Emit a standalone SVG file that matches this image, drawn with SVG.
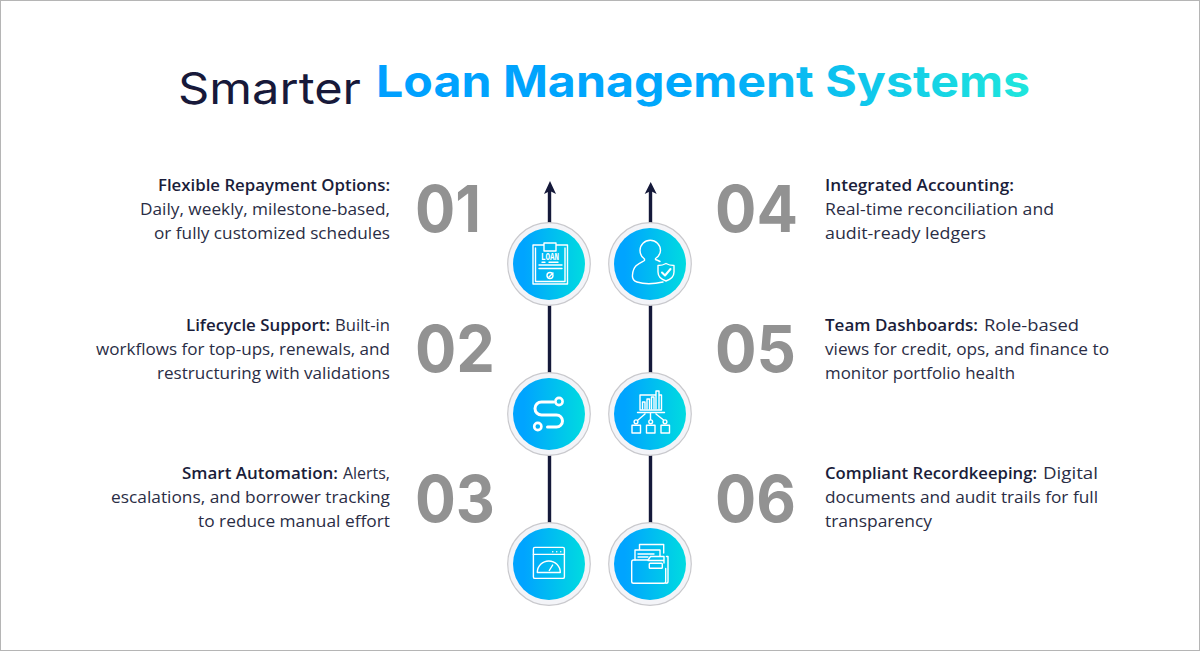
<svg xmlns="http://www.w3.org/2000/svg" width="1200" height="651" viewBox="0 0 1200 651">
<style>
text{font-family:"Open Sans","Noto Sans","Liberation Sans",sans-serif}
.t{font-size:15.5px;fill:#2a2d45}
.b{font-size:15.5px;font-weight:600;fill:#1a1d3a}
.n{font-family:Inter,"Liberation Sans",sans-serif;font-size:64px;font-weight:700;fill:#929292}
.ring{fill:#f3f4f8;stroke:#c9c9cd;stroke-width:1.2}
.disc{fill:url(#disc)}
.ic{fill:none;stroke:#fff;stroke-width:1.4;stroke-linecap:round;stroke-linejoin:round}
.lk{stroke:#15193a;stroke-width:3.4;fill:none}
.hd{fill:#15193a}
</style>
<defs>
<linearGradient id="disc" x1="0" y1="0" x2="1" y2="0"><stop offset="0.15" stop-color="#00a4ff"/><stop offset="1" stop-color="#00dbe0"/></linearGradient>
<linearGradient id="ttl" gradientUnits="userSpaceOnUse" x1="376" y1="0" x2="1030" y2="0"><stop offset="0" stop-color="#00a0ff"/><stop offset="0.5" stop-color="#00a8fb"/><stop offset="1" stop-color="#1fe6dc"/></linearGradient>
</defs>
<rect x="0.5" y="0.5" width="1199" height="650" fill="#fff" stroke="#b5b5b5"/>
<g id="title">
<text x="178" y="104" font-size="44" fill="#17193a" textLength="183" lengthAdjust="spacingAndGlyphs" style="font-family:Inter,'Open Sans',sans-serif">Smarter</text>
<text x="376" y="97" font-size="44" font-weight="700" fill="url(#ttl)" textLength="654" lengthAdjust="spacingAndGlyphs" style="font-family:Inter,'Open Sans',sans-serif">Loan Management Systems</text>
</g>
<g id="connectors">
<path class="lk" d="M549.500 190V224M549.500 304V374M549.500 454V524M650.500 190V224M650.500 304V374M650.500 454V524"/>
<path class="hd" d="M550 181L556 194L550 191L544 194Z"/>
<path class="hd" d="M650.700 182L656.700 194L650.700 191L644.700 194Z"/>
</g>
<g id="node-01">
<text class="n" x="415" y="232" textLength="66" lengthAdjust="spacingAndGlyphs">01</text>
<text class="b" x="158" y="191" textLength="232" lengthAdjust="spacingAndGlyphs">Flexible Repayment Options:</text>
<text class="t" x="140" y="215" textLength="250" lengthAdjust="spacingAndGlyphs">Daily, weekly, milestone-based,</text>
<text class="t" x="154" y="239" textLength="236" lengthAdjust="spacingAndGlyphs">or fully customized schedules</text>
<circle class="ring" cx="549" cy="264" r="41.300"/><circle class="disc" cx="549" cy="264" r="36"/>
<path class="ic" d="M544 245H533V284H567.500V245H556M544 243H556V251H544ZM535.500 248V281.500H565V248M539 265H562M539 268.500H562M542 262.300H545M549 262.300H558M553 273L549 277"/>
<circle class="ic" cx="550" cy="275.500" r="3"/>
<text x="550" y="260" text-anchor="middle" font-size="10" font-weight="700" fill="#fff" textLength="18" lengthAdjust="spacingAndGlyphs" style="font-family:'Liberation Mono',monospace">LOAN</text>
</g>
<g id="node-02">
<text class="n" x="415" y="372" textLength="80" lengthAdjust="spacingAndGlyphs">02</text>
<text class="b" x="186" y="331" textLength="144" lengthAdjust="spacingAndGlyphs">Lifecycle Support:</text>
<text class="t" x="335" y="331" textLength="55" lengthAdjust="spacingAndGlyphs">Built-in</text>
<text class="t" x="96" y="355" textLength="294" lengthAdjust="spacingAndGlyphs">workflows for top-ups, renewals, and</text>
<text class="t" x="157" y="379" textLength="233" lengthAdjust="spacingAndGlyphs">restructuring with validations</text>
<circle class="ring" cx="549" cy="414" r="41.300"/><circle class="disc" cx="549" cy="414" r="36"/>
<path fill="none" stroke="#fff" stroke-width="3" stroke-linecap="round" d="M553.500 402H541.500A6.500 6.500 0 0 0 541.500 415H556.500A6 6 0 0 1 556.500 427H547.500"/>
<circle cx="559" cy="401.500" r="3.600" fill="none" stroke="#fff" stroke-width="2.600"/>
<circle cx="537.800" cy="426.500" r="3.600" fill="none" stroke="#fff" stroke-width="2.600"/>
</g>
<g id="node-03">
<text class="n" x="415" y="522" textLength="80" lengthAdjust="spacingAndGlyphs">03</text>
<text class="b" x="182" y="479" textLength="156" lengthAdjust="spacingAndGlyphs">Smart Automation:</text>
<text class="t" x="343" y="479" textLength="47" lengthAdjust="spacingAndGlyphs">Alerts,</text>
<text class="t" x="111" y="503" textLength="279" lengthAdjust="spacingAndGlyphs">escalations, and borrower tracking</text>
<text class="t" x="198" y="527" textLength="192" lengthAdjust="spacingAndGlyphs">to reduce manual effort</text>
<circle class="ring" cx="549" cy="564" r="41.300"/><circle class="disc" cx="549" cy="564" r="36"/>
<rect class="ic" x="533.400" y="547.400" width="31" height="31" rx="1.500"/>
<path class="ic" d="M533.400 554.400H564.400M537.300 572.500A11.400 11.400 0 0 1 560.300 572.500ZM549.300 570.500L552.700 565M552.700 551.700h.1M556.700 551.700h.1M560.700 551.700h.1"/>
</g>
<g id="node-04">
<text class="n" x="715" y="232" textLength="83" lengthAdjust="spacingAndGlyphs">04</text>
<text class="b" x="825" y="191" textLength="189" lengthAdjust="spacingAndGlyphs">Integrated Accounting:</text>
<text class="t" x="825" y="215" textLength="229" lengthAdjust="spacingAndGlyphs">Real-time reconciliation and</text>
<text class="t" x="825" y="239" textLength="161" lengthAdjust="spacingAndGlyphs">audit-ready ledgers</text>
<circle class="ring" cx="650" cy="264" r="41.300"/><circle class="disc" cx="650" cy="264" r="36"/>
<path class="ic" d="M660 261.500C658 260.500 657 260 655.500 259.500V258.500C658.500 256.500 660.500 254.500 660.500 250.500A10.200 10.200 0 0 0 640 250.500C640 254.500 641.500 257 644.500 259V260.500C640 263 633 265 632.500 275C632 279 634 281 637 282C645 284.500 654 284 663 282"/>
<path class="ic" d="M666 263.500C668.500 265 671 265.500 674 265.500V272C674 276.500 670.500 279.500 666 281C661.500 279.500 658 276.500 658 272V265.500C661 265.500 663.500 265 666 263.500Z"/>
<path fill="none" stroke="#fff" stroke-width="2" stroke-linecap="round" stroke-linejoin="round" d="M662 272.500L665 275.500L670.500 269"/>
</g>
<g id="node-05">
<text class="n" x="715" y="372" textLength="81" lengthAdjust="spacingAndGlyphs">05</text>
<text class="b" x="825" y="331" textLength="153" lengthAdjust="spacingAndGlyphs">Team Dashboards:</text>
<text class="t" x="984" y="331" textLength="95" lengthAdjust="spacingAndGlyphs">Role-based</text>
<text class="t" x="825" y="355" textLength="284" lengthAdjust="spacingAndGlyphs">views for credit, ops, and finance to</text>
<text class="t" x="825" y="379" textLength="190" lengthAdjust="spacingAndGlyphs">monitor portfolio health</text>
<circle class="ring" cx="650" cy="414" r="41.300"/><circle class="disc" cx="650" cy="414" r="36"/>
<path class="ic" d="M655 395H640V410H661.500V395H660M637.500 412.500H664.500M642.500 408.500V402H645V408.500M647 408.500V399H649.500V408.500M651.500 408.500V397H654V408.500M656 408.500V391H659V408.500M650.500 413V419.500M645 414L638 420M656 414L663.500 420"/>
<circle class="ic" cx="636" cy="421.800" r="1.900"/><circle class="ic" cx="650.700" cy="421.800" r="1.900"/><circle class="ic" cx="665" cy="421.800" r="1.900"/>
<rect class="ic" x="632" y="425.200" width="8.500" height="7.800"/><rect class="ic" x="646.500" y="425.200" width="8.500" height="7.800"/><rect class="ic" x="661" y="425.200" width="8.500" height="7.800"/>
</g>
<g id="node-06">
<text class="n" x="715" y="522" textLength="81" lengthAdjust="spacingAndGlyphs">06</text>
<text class="b" x="825" y="479" textLength="212" lengthAdjust="spacingAndGlyphs">Compliant Recordkeeping:</text>
<text class="t" x="1043" y="479" textLength="55" lengthAdjust="spacingAndGlyphs">Digital</text>
<text class="t" x="825" y="503" textLength="273" lengthAdjust="spacingAndGlyphs">documents and audit trails for full</text>
<text class="t" x="825" y="527" textLength="107" lengthAdjust="spacingAndGlyphs">transparency</text>
<circle class="ring" cx="650" cy="564" r="41.300"/><circle class="disc" cx="650" cy="564" r="36"/>
<path class="ic" d="M639.500 550V544.500H663.700V553M635 560V550H660V556M638 554H654M638 557H648"/>
<path class="ic" d="M633.500 560H648L650.500 556.500H664V563M648 560.500H664M633.500 560C632 560 631.700 561 631.700 562V581.500C631.700 582.800 632.500 583.300 633.500 583.300H664C665.200 583.300 665.700 582.500 665.700 581.500V568.500M666.500 556.500H668V581.500C668 582.800 667 583.300 666 583.300"/>
<rect class="ic" x="649.300" y="563.300" width="13" height="5" rx="0.800"/>
</g>
</svg>
